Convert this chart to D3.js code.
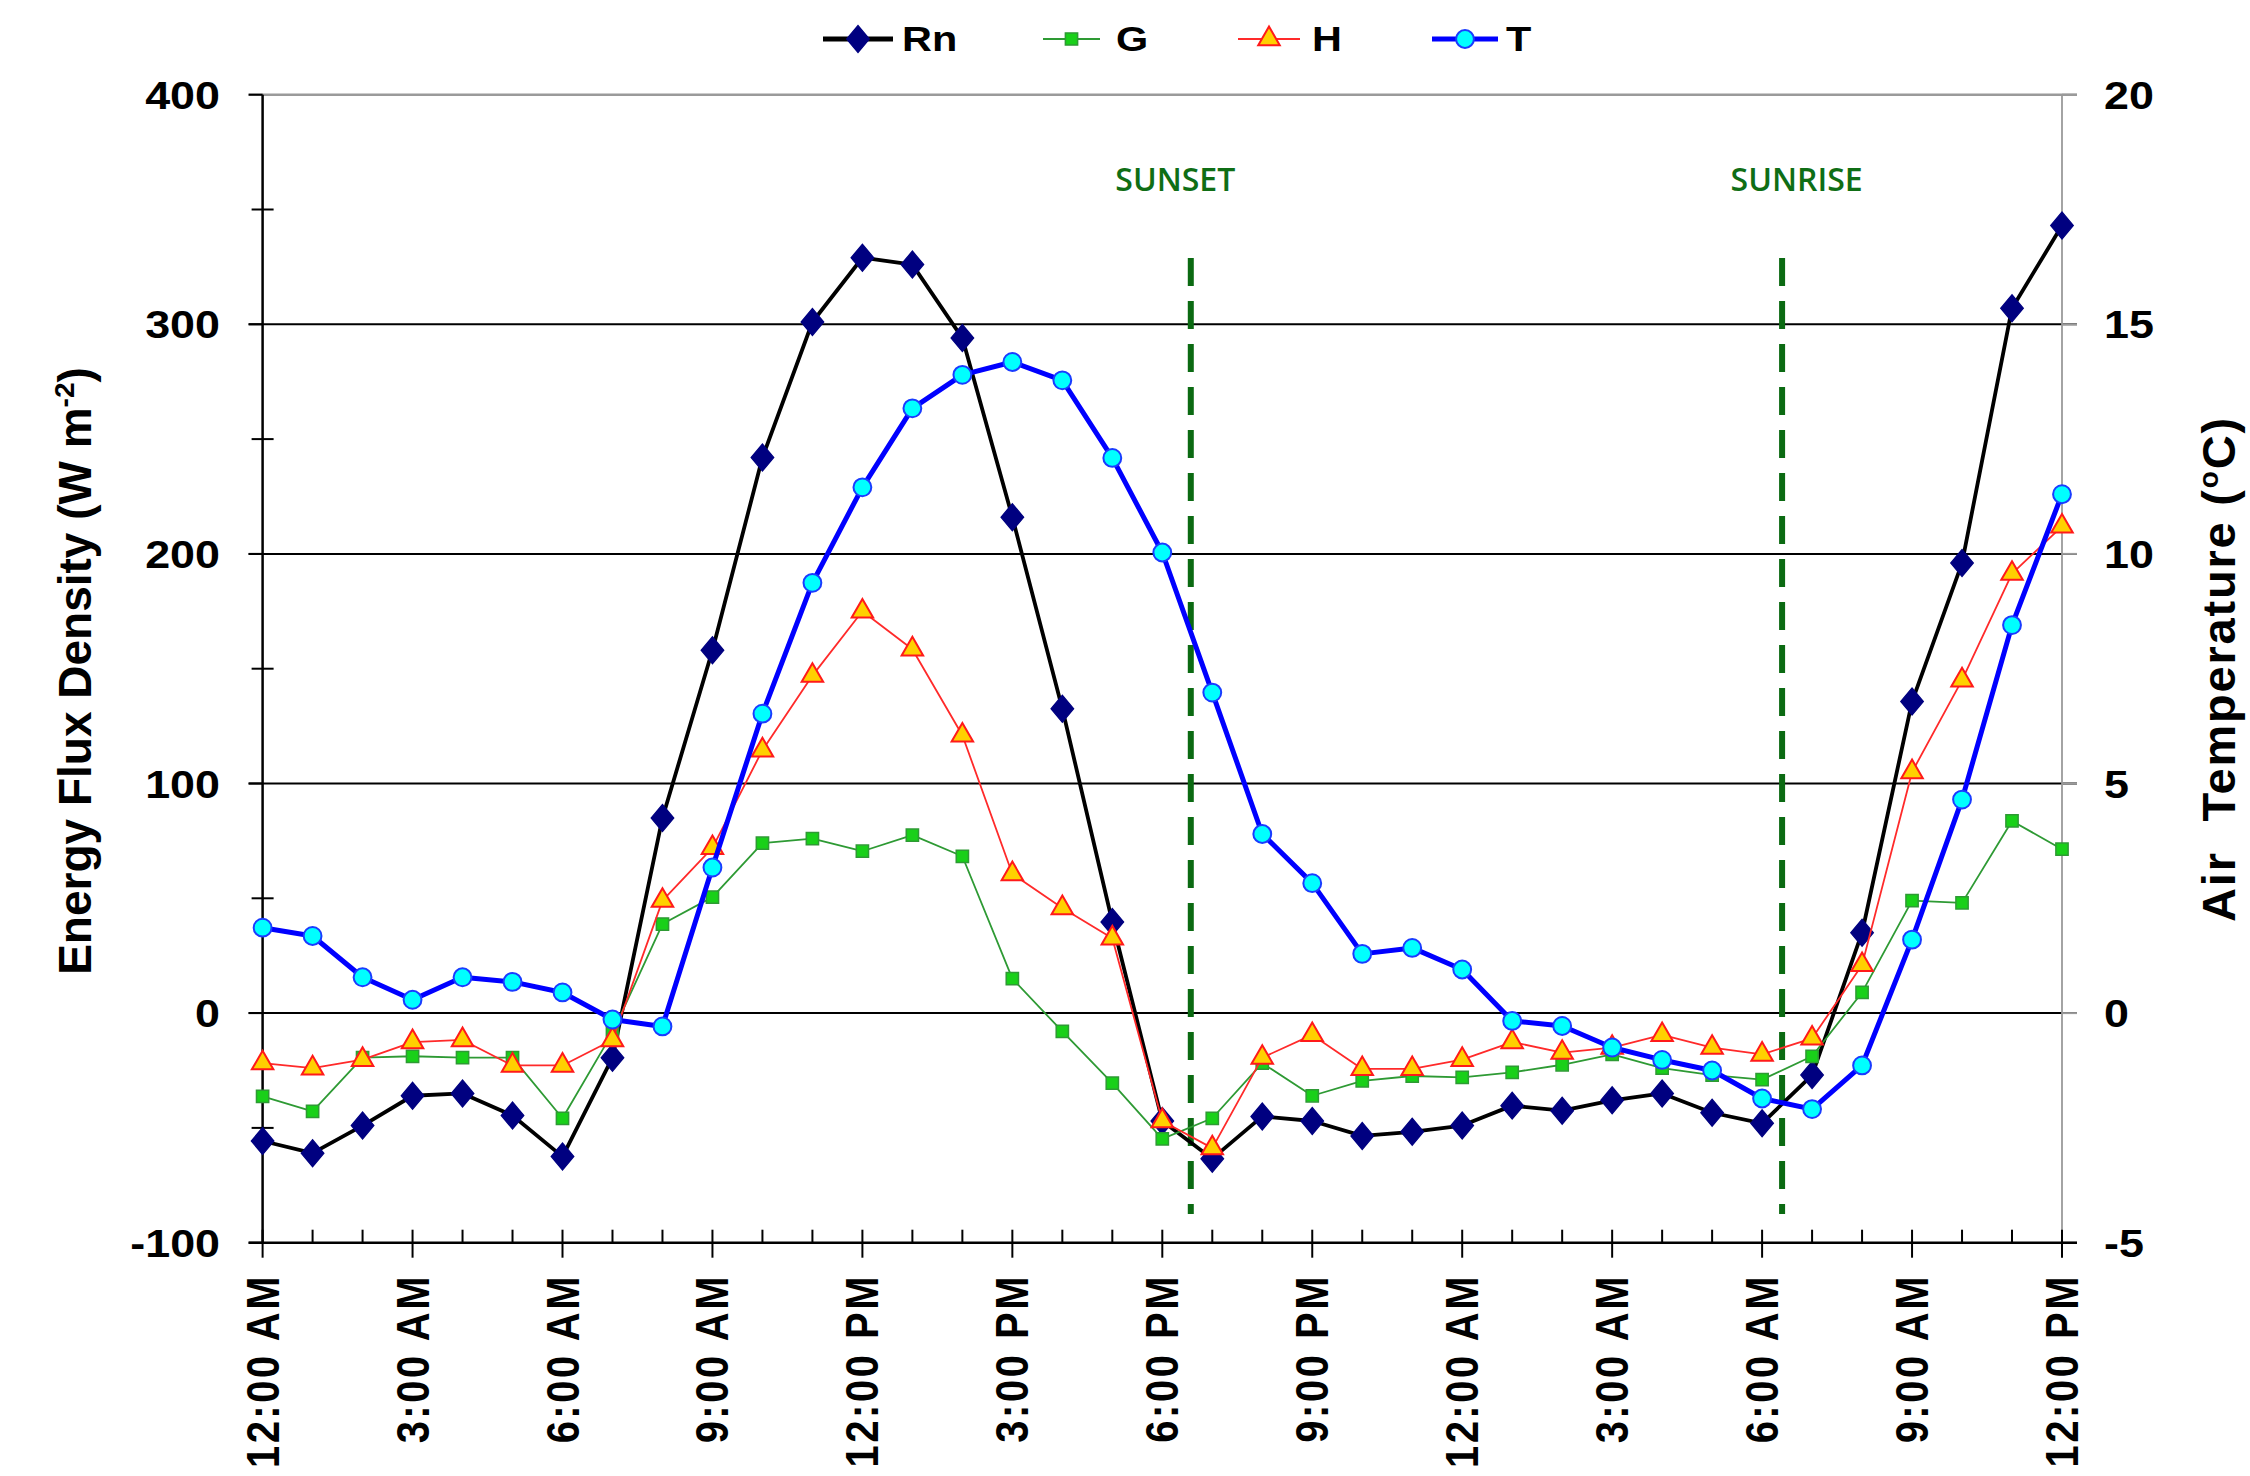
<!DOCTYPE html>
<html>
<head>
<meta charset="utf-8">
<script src="https://cdn.jsdelivr.net/npm/d3@7"></script>
<style>
  body { margin: 0; background: #ffffff; }
  svg { display: block; }
</style>
</head>
<body>
<svg id="chart" width="2250" height="1476"></svg>
<script>
// Hourly energy-balance components (W m-2) and air temperature (°C), midnight to noon of the next day
const tickLabels = ["12:00 AM", "3:00 AM", "6:00 AM", "9:00 AM", "12:00 PM", "3:00 PM", "6:00 PM",
                    "9:00 PM", "12:00 AM", "3:00 AM", "6:00 AM", "9:00 AM", "12:00 PM"];

const rnValues = [-55.7, -61, -49, -36, -35, -44.6, -62.5, -19.4, 85, 158, 242, 301, 329, 326,
                  294, 216, 132.6, 39.7, -47, -63.4, -45, -47, -53.5, -51.7, -49, -40.3, -42.5,
                  -38, -35, -43.4, -48, -27, 35, 135.7, 196, 307, 343];

const gValues = [-36.3, -42.8, -19.4, -18.8, -19.4, -19.4, -45.8, -8.6, 38.8, 50.5, 74, 76, 70.5, 77.5,
                 68.3, 15, -8, -30.5, -54.8, -45.8, -21.8, -36, -29.5, -27.4, -28, -25.8, -22.5,
                 -18, -24, -27, -29, -18.8, 9, 49, 48, 83.7, 71.4];

const hValues = [-21.8, -24, -20.3, -12.6, -11.7, -22.8, -22.8, -11.7, 49, 72, 114.5, 147, 175, 158.5,
                 121, 60.6, 45.8, 32.6, -47, -58.8, -19.4, -9.5, -24.3, -24.3, -20.3, -12.6, -17.2,
                 -15, -9.5, -15, -18, -11, 21, 105, 145, 191.4, 212];

const tValues = [1.86, 1.68, 0.78, 0.29, 0.78, 0.68, 0.45, -0.14, -0.29, 3.17, 6.52, 9.37, 11.45, 13.17,
                 13.9, 14.18, 13.78, 12.09, 10.03, 6.98, 3.9, 2.83, 1.29, 1.42, 0.95, -0.17, -0.28,
                 -0.75, -1.02, -1.25, -1.86, -2.09, -1.14, 1.6, 4.65, 8.45, 11.3];

// Sunset / sunrise markers (hours from the first midnight)
const eventNames = ["SUNSET", "SUNRISE"];
const eventHours = [18.57, 30.4];
const eventLabelHours = [18.26, 30.69];

const leftTicks = [-100, 0, 100, 200, 300, 400];
const leftMinorTicks = [-50, 50, 150, 250, 350];
const rightTicks = [-5, 0, 5, 10, 15, 20];

const svg = d3.select("#chart");
const FONT = "'Liberation Sans', Arial, sans-serif";
const SX = 1.15; // horizontal stretch used for the lettering

const x = d3.scaleLinear().domain([0, 36]).range([262.6, 2062]);
const yL = d3.scaleLinear().domain([-100, 400]).range([1242.7, 94.7]);
const yR = d3.scaleLinear().domain([-5, 20]).range([1242.7, 94.7]);

const plotL = x.range()[0], plotR = x.range()[1];
const plotT = yL.range()[1], plotB = yL.range()[0];

// ---- gridlines and frame ----
const frame = svg.append("g");
frame.selectAll(".grid").data([0, 100, 200, 300]).enter().append("line")
  .attr("x1", plotL - 14).attr("x2", plotR + 15)
  .attr("y1", d => yL(d)).attr("y2", d => yL(d))
  .attr("stroke", "#000").attr("stroke-width", 2);
frame.append("line")
  .attr("x1", plotL - 14).attr("x2", plotR + 15)
  .attr("y1", yL(400)).attr("y2", yL(400))
  .attr("stroke", "#9a9a9a").attr("stroke-width", 2.5);
frame.append("line")
  .attr("x1", plotR).attr("x2", plotR).attr("y1", plotT).attr("y2", plotB)
  .attr("stroke", "#9a9a9a").attr("stroke-width", 1.8);
frame.selectAll(".rtick").data(rightTicks).enter().append("line")
  .attr("x1", plotR).attr("x2", plotR + 15)
  .attr("y1", d => yR(d)).attr("y2", d => yR(d))
  .attr("stroke", "#9a9a9a").attr("stroke-width", 2);
frame.selectAll(".ltick").data(leftTicks).enter().append("line")
  .attr("x1", plotL - 14).attr("x2", plotL)
  .attr("y1", d => yL(d)).attr("y2", d => yL(d))
  .attr("stroke", "#000").attr("stroke-width", 2);
frame.selectAll(".lminor").data(leftMinorTicks).enter().append("line")
  .attr("x1", plotL - 11).attr("x2", plotL + 11)
  .attr("y1", d => yL(d)).attr("y2", d => yL(d))
  .attr("stroke", "#000").attr("stroke-width", 2);
frame.append("line")
  .attr("x1", plotL).attr("x2", plotL).attr("y1", plotT).attr("y2", plotB)
  .attr("stroke", "#000").attr("stroke-width", 2.5);
frame.append("line")
  .attr("x1", plotL - 14).attr("x2", plotR + 15).attr("y1", plotB).attr("y2", plotB)
  .attr("stroke", "#000").attr("stroke-width", 2.5);
const hourIdx = rnValues.map((_, i) => i);
frame.selectAll(".xtick").data(hourIdx).enter().append("line")
  .attr("x1", d => x(d)).attr("x2", d => x(d))
  .attr("y1", plotB - 13).attr("y2", d => d % 3 === 0 ? plotB + 15 : plotB)
  .attr("stroke", "#000").attr("stroke-width", 2);

// ---- axis labels ----
const labels = svg.append("g").attr("font-family", FONT).attr("font-weight", "bold").attr("fill", "#000");
labels.selectAll(".ly").data(leftTicks).enter().append("text")
  .attr("transform", d => `translate(220,${yL(d) + 14}) scale(${SX},1)`)
  .attr("text-anchor", "end").attr("font-size", 39).text(d => d);
labels.selectAll(".ry").data(rightTicks).enter().append("text")
  .attr("transform", d => `translate(2104,${yR(d) + 14}) scale(${SX},1)`)
  .attr("text-anchor", "start").attr("font-size", 39).text(d => d);
labels.selectAll(".lx").data(tickLabels).enter().append("text")
  .attr("transform", (d, i) => `translate(${x(i * 3) + 16},1274) scale(${SX},1) rotate(-90)`)
  .attr("text-anchor", "end").attr("font-size", 40).attr("letter-spacing", 2.5).text(d => d);

// axis titles
const yTitle = labels.append("text")
  .attr("transform", "translate(91,671) rotate(-90)")
  .attr("text-anchor", "middle").attr("font-size", 46);
yTitle.append("tspan").text("Energy Flux Density (W m");
yTitle.append("tspan").attr("font-size", 28).attr("dy", -17).text("-2");
yTitle.append("tspan").attr("dy", 17).text(")");

const rTitle = labels.append("text")
  .attr("transform", "translate(2235,669) rotate(-90)")
  .attr("text-anchor", "middle").attr("font-size", 47).attr("letter-spacing", 1.8);
rTitle.append("tspan").attr("xml:space", "preserve").text("Air  Temperature (");
rTitle.append("tspan").attr("font-size", 28).attr("dy", -17).text("o");
rTitle.append("tspan").attr("dy", 17).text("C)");

// ---- sunset / sunrise markers ----
const ev = svg.append("g");
ev.selectAll(".evline").data(eventHours).enter().append("line")
  .attr("x1", d => x(d)).attr("x2", d => x(d))
  .attr("y1", 258).attr("y2", 1214)
  .attr("stroke", "#0b6a12").attr("stroke-width", 6)
  .attr("stroke-dasharray", "28,15");
ev.selectAll(".evlabel").data(eventNames).enter().append("text")
  .attr("x", (d, i) => x(eventLabelHours[i])).attr("y", 191)
  .attr("text-anchor", "middle")
  .attr("font-family", "'Open Sans', 'Noto Sans', sans-serif").attr("font-weight", 600)
  .attr("font-size", 32).attr("fill", "#0f6e15").text(d => d);

// ---- series ----
const series = [
  { name: "Rn", values: rnValues, scale: yL, color: "#000000", width: 3.8,
    symbol: d3.symbolDiamond, size: 210, fill: "#000080", stroke: "#000080", sw: 1 },
  { name: "G", values: gValues, scale: yL, color: "#2e9a34", width: 1.8,
    symbol: d3.symbolSquare, size: 150, fill: "#19d019", stroke: "#2e9a34", sw: 1.5 },
  { name: "H", values: hValues, scale: yL, color: "#ff2a2a", width: 1.8,
    symbol: d3.symbolTriangle, size: 200, fill: "#ffd000", stroke: "#ff1a1a", sw: 2 },
  { name: "T", values: tValues, scale: yR, color: "#0000ff", width: 5,
    symbol: d3.symbolCircle, size: 250, fill: "#00ffff", stroke: "#1a3cff", sw: 2 }
];

const plot = svg.append("g");
series.forEach(s => {
  const line = d3.line().x((d, i) => x(i)).y(d => s.scale(d));
  plot.append("path").datum(s.values)
    .attr("d", line).attr("fill", "none")
    .attr("stroke", s.color).attr("stroke-width", s.width)
    .attr("stroke-linejoin", "round");
  const sym = d3.symbol().type(s.symbol).size(s.size);
  plot.selectAll(null).data(s.values).enter().append("path")
    .attr("d", sym)
    .attr("transform", (d, i) => s.symbol === d3.symbolDiamond
      ? `translate(${x(i)},${s.scale(d)}) scale(1.45,1)`
      : `translate(${x(i)},${s.scale(d)})`)
    .attr("fill", s.fill).attr("stroke", s.stroke).attr("stroke-width", s.sw);
});

// ---- legend ----
const legendItems = [
  { x0: 823, x1: 893, tx: 902 },
  { x0: 1043, x1: 1100, tx: 1116 },
  { x0: 1238, x1: 1300, tx: 1312 },
  { x0: 1432, x1: 1498, tx: 1506 }
];
const legend = svg.append("g");
series.forEach((s, i) => {
  const L = legendItems[i];
  legend.append("line").attr("x1", L.x0).attr("x2", L.x1).attr("y1", 39).attr("y2", 39)
    .attr("stroke", s.color).attr("stroke-width", s.name === "Rn" ? 5 : s.width);
  legend.append("path").attr("d", d3.symbol().type(s.symbol).size(s.size))
    .attr("transform", s.symbol === d3.symbolDiamond
      ? `translate(${(L.x0 + L.x1) / 2},39) scale(1.45,1)`
      : `translate(${(L.x0 + L.x1) / 2},39)`)
    .attr("fill", s.fill).attr("stroke", s.stroke).attr("stroke-width", s.sw);
  legend.append("text")
    .attr("transform", `translate(${L.tx},51) scale(${SX},1)`)
    .attr("font-family", FONT).attr("font-weight", "bold").attr("font-size", 36)
    .attr("fill", "#000").text(s.name);
});
</script>
</body>
</html>
